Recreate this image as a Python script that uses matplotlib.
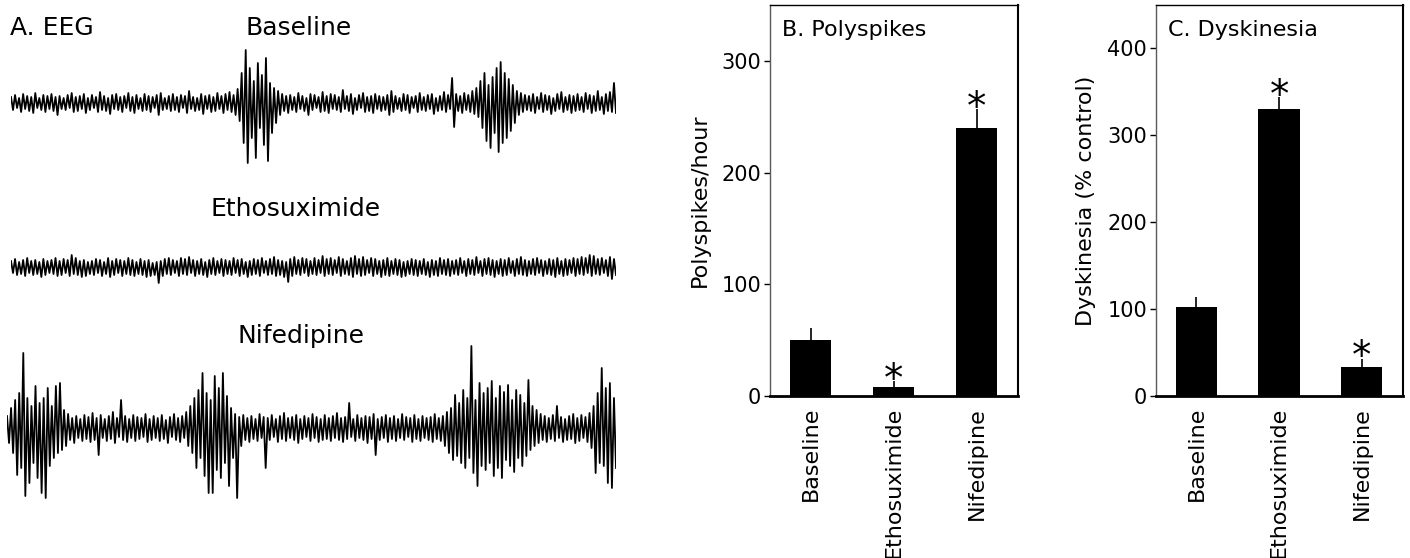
import numpy as np
import matplotlib.pyplot as plt

plt.rcParams['font.family'] = 'DejaVu Sans'

# EEG traces (pixels from the trace midline):
# upper excursion and lower excursion of each ~4 px column
baseline_hi = [6, 8, 5, 9, 7, 6, 10, 5, 8, 7,
               9, 6, 7, 5, 8, 10, 6, 7, 9, 5,
               8, 6, 11, 7, 5, 8, 9, 6, 7, 10,
               6, 8, 5, 9, 7, 6, 8, 10, 5, 7,
               9, 6, 8, 7, 12, 6, 5, 9, 7, 8,
               6, 10, 7, 9, 11, 8, 14, 30, 53, 35,
               22, 40, 28, 45, 20, 15, 12, 9, 7, 8,
               6, 10, 7, 5, 9, 8, 6, 11, 7, 9,
               8, 6, 13, 7, 9, 5, 8, 10, 6, 7,
               9, 7, 6, 8, 12, 7, 5, 9, 8, 6,
               7, 10, 6, 8, 9, 5, 7, 11, 8, 25,
               9, 7, 10, 8, 12, 15, 22, 30, 18, 26,
               35, 41, 30, 24, 18, 12, 10, 8, 7, 9,
               6, 10, 8, 7, 5, 9, 11, 6, 8, 7,
               9, 6, 10, 8, 7, 12, 6, 9, 11, 20]
baseline_lo = [-7, -5, -9, -6, -8, -10, -5, -7, -9, -6,
               -8, -12, -6, -7, -5, -9, -8, -6, -10, -7,
               -5, -9, -7, -8, -11, -6, -7, -9, -5, -8,
               -10, -6, -8, -7, -9, -5, -12, -7, -6, -8,
               -7, -9, -5, -10, -6, -8, -7, -11, -6, -9,
               -8, -6, -10, -7, -9, -12, -18, -40, -60, -35,
               -55, -25, -42, -58, -30, -20, -12, -8, -10, -7,
               -9, -6, -8, -12, -7, -5, -9, -8, -10, -6,
               -7, -9, -6, -8, -11, -7, -5, -9, -8, -10,
               -6, -8, -7, -12, -9, -6, -8, -7, -10, -5,
               -9, -7, -8, -6, -11, -8, -7, -9, -6, -24,
               -8, -10, -7, -9, -11, -14, -25, -38, -45, -30,
               -49, -40, -35, -28, -20, -12, -9, -7, -8, -10,
               -6, -9, -7, -11, -8, -6, -9, -7, -10, -8,
               -7, -9, -6, -10, -8, -7, -11, -8, -9, -10]

etho_hi = [6, 8, 5, 7, 9, 6, 7, 5, 8, 6,
           7, 9, 6, 8, 7, 12, 9, 6, 7, 5,
           6, 8, 7, 5, 9, 6, 8, 7, 6, 9,
           7, 5, 8, 6, 7, 4, 5, 6, 8, 9,
           7, 6, 9, 8, 10, 7, 6, 8, 5, 7,
           9, 6, 8, 7, 6, 9, 7, 8, 5, 6,
           8, 7, 9, 6, 8, 10, 7, 6, 5, 8,
           10, 7, 9, 8, 6, 9, 7, 11, 8, 9,
           7, 10, 8, 6, 9, 11, 8, 10, 7, 9,
           8, 6, 7, 9, 6, 8, 7, 5, 6, 8,
           7, 6, 8, 5, 7, 6, 9, 7, 8, 6,
           7, 9, 6, 8, 7, 10, 6, 8, 9, 7,
           6, 8, 7, 9, 6, 8, 10, 7, 6, 8,
           9, 7, 6, 8, 7, 9, 6, 8, 7, 9,
           8, 10, 9, 12, 11, 8, 9, 7, 10, 8]
etho_lo = [-6, -8, -7, -9, -6, -8, -7, -10, -8, -6,
           -7, -9, -8, -6, -9, -7, -8, -10, -9, -7,
           -8, -6, -9, -7, -10, -8, -6, -9, -7, -8,
           -9, -7, -8, -10, -9, -8, -16, -9, -7, -8,
           -6, -9, -7, -8, -6, -9, -7, -8, -10, -7,
           -8, -6, -9, -7, -8, -6, -9, -7, -10, -8,
           -7, -9, -6, -8, -7, -9, -8, -10, -15, -9,
           -7, -8, -6, -9, -7, -8, -6, -9, -7, -8,
           -6, -9, -7, -8, -10, -7, -9, -8, -6, -9,
           -7, -10, -8, -9, -7, -8, -10, -9, -7, -8,
           -9, -7, -8, -10, -8, -9, -7, -8, -9, -7,
           -8, -6, -9, -7, -8, -6, -9, -7, -8, -10,
           -7, -9, -8, -6, -9, -7, -8, -9, -7, -8,
           -6, -9, -7, -8, -10, -7, -9, -8, -6, -9,
           -7, -8, -6, -9, -7, -8, -6, -9, -12, -8]

nif_hi = [12, 20, 28, 35, 75, 30, 22, 42, 25, 30,
          40, 22, 42, 45, 18, 14, 10, 12, 9, 13,
          11, 15, 10, 13, 9, 12, 16, 10, 28, 12,
          9, 13, 11, 10, 14, 9, 12, 10, 13, 8,
          11, 14, 10, 12, 16, 22, 30, 38, 55, 35,
          28, 52, 40, 55, 32, 20, 14, 11, 13, 10,
          12, 9, 14, 11, 10, 13, 9, 12, 15, 10,
          11, 13, 9, 12, 10, 14, 11, 9, 13, 10,
          12, 15, 10, 11, 25, 9, 13, 10, 12, 11,
          14, 9, 11, 13, 10, 12, 9, 14, 11, 10,
          13, 9, 12, 10, 11, 14, 10, 12, 16, 20,
          33, 25, 38, 30, 82, 28, 45, 35, 40, 47,
          30, 42, 36, 43, 28, 38, 33, 25, 48, 22,
          18, 14, 12, 10, 13, 22, 11, 9, 12, 14,
          10, 13, 11, 15, 22, 35, 60, 40, 45, 30]
nif_lo = [-15, -25, -47, -40, -68, -55, -35, -50, -65, -70,
          -38, -30, -25, -22, -18, -12, -15, -10, -13, -11,
          -14, -12, -27, -10, -13, -11, -15, -9, -12, -14,
          -10, -13, -11, -9, -14, -12, -10, -13, -11, -15,
          -9, -12, -14, -10, -18, -25, -40, -30, -48, -65,
          -65, -42, -50, -35, -58, -30, -70, -18, -12, -14,
          -11, -13, -10, -40, -12, -9, -14, -11, -13, -10,
          -12, -15, -11, -9, -13, -10, -14, -12, -11, -13,
          -10, -12, -14, -11, -9, -13, -10, -12, -15, -11,
          -27, -12, -10, -14, -11, -13, -10, -12, -9, -14,
          -11, -13, -10, -12, -14, -11, -13, -18, -25, -32,
          -28, -35, -40, -30, -45, -58, -38, -42, -35, -48,
          -40, -50, -32, -38, -44, -30, -38, -28, -22, -18,
          -15, -12, -14, -11, -13, -10, -14, -12, -11, -15,
          -13, -10, -14, -20, -45, -35, -38, -55, -60, -40]

# bar charts
groups = ['Baseline', 'Ethosuximide', 'Nifedipine']
polyspikes = [50, 8, 240]
polyspikes_sem = [11, 5, 17]
polyspikes_sig = [False, True, True]
dyskinesia = [102, 330, 33]
dyskinesia_sem = [12, 14, 10]
dyskinesia_sig = [False, True, True]

W, H = 1410, 558
fig = plt.figure(figsize=(W / 100, H / 100), dpi=100)


def px_axes(x0, y0, x1, y1):
    # axes from a pixel box, origin top-left
    return fig.add_axes([x0 / W, 1 - y1 / H, (x1 - x0) / W, (y1 - y0) / H])


# ---- A. EEG ----
traces = [(baseline_hi, baseline_lo, 11, 103, 80),
          (etho_hi, etho_lo, 11, 267, 40),
          (nif_hi, nif_lo, 7, 428, 110)]
for hi, lo, x0, yc, half in traces:
    sig = np.column_stack([hi, lo]).ravel()
    ax = px_axes(x0, yc - half, 616, yc + half)
    ax.plot(np.arange(len(sig)), sig, color='k', lw=1.3)
    ax.set_xlim(0, len(sig) - 1)
    ax.set_ylim(-half, half)
    ax.axis('off')

fig.text(10 / W, 1 - 35 / H, 'A. EEG', fontsize=18, va='baseline', ha='left')
fig.text(299 / W, 1 - 35 / H, 'Baseline', fontsize=18, va='baseline', ha='center')
fig.text(296 / W, 1 - 216 / H, 'Ethosuximide', fontsize=18, va='baseline', ha='center')
fig.text(301 / W, 1 - 343 / H, 'Nifedipine', fontsize=18, va='baseline', ha='center')


def bar_panel(ax, vals, sem, sig, ymax, ticks, title, ylabel):
    x = np.arange(len(groups))
    ax.bar(x, vals, width=0.5, color='k')
    ax.errorbar(x, vals, yerr=[np.zeros(len(vals)), sem], fmt='none',
                ecolor='k', elinewidth=1.2, capsize=0)
    for i in range(len(vals)):
        if sig[i]:
            ax.annotate('*', xy=(x[i], vals[i] + sem[i]), xytext=(0, -7),
                        textcoords='offset points', ha='center', va='baseline',
                        fontsize=28)
    ax.set_xlim(-0.49, 2.5)
    ax.set_ylim(0, ymax)
    ax.set_yticks(ticks)
    ax.set_xticks(x)
    ax.set_xticklabels(groups, rotation=90, fontsize=16)
    ax.tick_params(axis='x', length=0, pad=8)
    ax.tick_params(axis='y', direction='out', length=4.5, width=1, labelsize=15, pad=2)
    ax.spines['left'].set_color('0.35')
    ax.spines['left'].set_linewidth(1)
    ax.spines['top'].set_linewidth(1)
    ax.spines['right'].set_linewidth(1.5)
    ax.spines['bottom'].set_linewidth(2)
    ax.text(0.05, 0.92, title, transform=ax.transAxes, fontsize=16, va='baseline')
    ax.set_ylabel(ylabel, fontsize=16, labelpad=8)


axB = px_axes(770, 5, 1018, 396)
bar_panel(axB, polyspikes, polyspikes_sem, polyspikes_sig, 350, [0, 100, 200, 300],
          'B. Polyspikes', 'Polyspikes/hour')

axC = px_axes(1156, 5, 1403, 396)
bar_panel(axC, dyskinesia, dyskinesia_sem, dyskinesia_sig, 450, [0, 100, 200, 300, 400],
          'C. Dyskinesia', 'Dyskinesia (% control)')

plt.savefig('out.png', dpi=100)
